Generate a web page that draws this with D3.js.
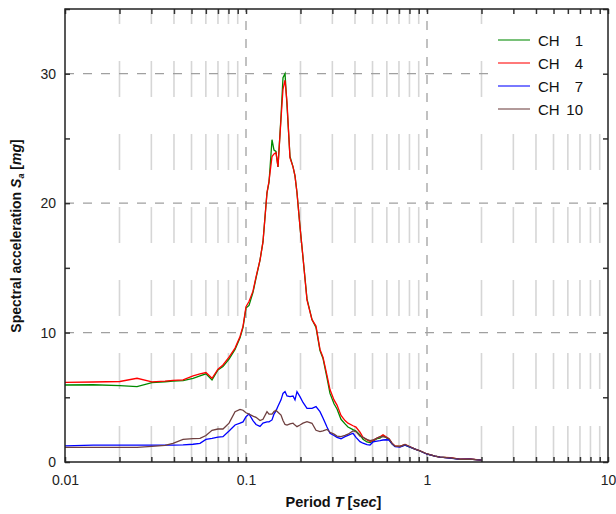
<!DOCTYPE html>
<html>
<head>
<meta charset="utf-8">
<script src="https://cdn.jsdelivr.net/npm/d3@7"></script>
<style>
  body { margin: 0; background: #fff; }
  svg { display: block; font-family: "Liberation Sans", Arial, sans-serif; }
</style>
</head>
<body>
<div id="chart"></div>
<script>
// Periods (sec) shared by all channels
const periods = [0.01, 0.0143, 0.0201, 0.025, 0.0302, 0.0357, 0.0395, 0.0449, 0.051, 0.0557,
  0.0601, 0.0649, 0.07, 0.0746, 0.0806, 0.087, 0.0927, 0.0963, 0.1, 0.1039,
  0.1093, 0.1136, 0.1195, 0.1241, 0.1306, 0.134, 0.1392, 0.1428, 0.1464, 0.1502,
  0.1561, 0.1601, 0.1643, 0.1685, 0.175, 0.1819, 0.1865, 0.1913, 0.1987, 0.2065,
  0.2173, 0.2315, 0.2436, 0.2563, 0.2663, 0.2802, 0.2911, 0.3063, 0.3183, 0.3349,
  0.3524, 0.366, 0.39, 0.4052, 0.4264, 0.443, 0.466, 0.4842, 0.503, 0.5293,
  0.55, 0.5714, 0.5936, 0.6166, 0.6406, 0.666, 0.709, 0.756, 0.806, 0.859,
  0.915, 1.0, 1.107, 1.18, 1.34, 1.521, 1.728, 2.0];

// Spectral acceleration (mg)
const ch1 = [5.95, 5.97, 5.9, 5.83, 6.13, 6.2, 6.25, 6.29, 6.47, 6.65,
  6.81, 6.34, 7.11, 7.37, 7.95, 8.7, 9.6, 10.4, 11.9, 12.1,
  13.1, 14.2, 15.6, 17.0, 20.8, 21.6, 24.9, 24.1, 24.0, 22.8,
  26.7, 29.7, 30.0, 27.5, 23.6, 22.8, 22.1, 20.8, 18.2, 15.8,
  12.6, 11.0, 10.4, 8.6, 8.0, 6.5, 5.3, 4.5, 4.1, 3.3,
  2.95, 2.7, 2.5, 2.4, 2.1, 1.75, 1.55, 1.5, 1.6, 1.8,
  1.85, 2.05, 1.9, 1.75, 1.4, 1.2, 1.2, 1.3, 1.15, 1.0,
  0.85, 0.62, 0.45, 0.38, 0.32, 0.22, 0.22, 0.15];

const ch4 = [6.15, 6.18, 6.22, 6.47, 6.19, 6.25, 6.3, 6.34, 6.65, 6.8,
  6.91, 6.47, 7.17, 7.5, 8.1, 8.8, 9.7, 10.5, 12.0, 12.4,
  13.2, 14.3, 15.6, 17.0, 20.8, 21.7, 23.6, 23.8, 23.9, 22.8,
  26.5, 28.8, 29.5, 27.8, 23.5, 22.8, 22.1, 20.8, 18.2, 15.8,
  12.5, 11.0, 10.5, 8.7, 8.1, 6.7, 5.6, 4.8, 4.4, 3.6,
  3.2, 3.0, 2.8, 2.7, 2.3, 1.9, 1.7, 1.6, 1.65, 1.85,
  1.95, 2.1, 1.95, 1.8, 1.45, 1.24, 1.2, 1.35, 1.18, 1.0,
  0.87, 0.62, 0.45, 0.38, 0.33, 0.22, 0.23, 0.15];

const ch7 = [1.24, 1.31, 1.3, 1.31, 1.31, 1.31, 1.31, 1.33, 1.37, 1.44,
  1.75, 1.83, 1.92, 1.96, 2.4, 2.86, 3.0, 3.1, 3.5, 3.71,
  3.2, 2.9, 2.75, 3.0, 3.1, 3.1, 3.25, 3.7, 3.95, 4.3,
  4.8, 5.3, 5.44, 5.1, 5.05, 5.1, 4.8, 5.44, 5.05, 4.6,
  4.15, 4.15, 4.28, 3.89, 3.4, 2.7, 2.22, 2.05, 1.9, 1.8,
  1.96, 2.05, 2.22, 1.9, 1.57, 1.45, 1.35, 1.31, 1.55, 1.62,
  1.65, 1.7, 1.72, 1.7, 1.4, 1.18, 1.15, 1.3, 1.15, 1.0,
  0.85, 0.6, 0.45, 0.38, 0.3, 0.2, 0.22, 0.15];

const ch10 = [1.13, 1.13, 1.13, 1.13, 1.2, 1.28, 1.44, 1.75, 1.8, 1.83,
  2.05, 2.45, 2.55, 2.55, 3.0, 3.89, 4.07, 4.0, 3.8, 3.7,
  3.55, 3.45, 3.2, 3.3, 3.89, 3.7, 3.7, 3.9, 4.0, 3.85,
  3.63, 3.2, 2.9, 2.85, 2.95, 3.0, 2.85, 2.73, 2.86, 3.0,
  3.12, 2.99, 2.45, 2.35, 2.4, 2.52, 2.3, 2.15, 2.0, 1.96,
  2.05, 2.15, 2.4, 2.35, 2.0, 1.9, 1.75, 1.65, 1.7, 1.85,
  1.95, 1.96, 1.9, 1.8, 1.45, 1.22, 1.2, 1.35, 1.18, 1.0,
  0.86, 0.62, 0.45, 0.38, 0.32, 0.21, 0.22, 0.15];

const seriesNames = ["CH", "CH", "CH", "CH"];
const seriesNums = ["1", "4", "7", "10"];
const seriesColors = ["#008a00", "#ff0000", "#0000ff", "#6e3f3f"];

const xTickLabels = ["0.01", "0.1", "1", "10"];
const xMajor = [0.01, 0.1, 1, 10];
const yTickLabels = ["0", "10", "20", "30"];
const yMajor = [0, 10, 20, 30];

const W = 616, H = 514;
const margin = { left: 65, top: 9, right: 8, bottom: 52 };

const svg = d3.select("#chart").append("svg")
    .attr("width", W)
    .attr("height", H)
    .style("background", "#fff");

const x = d3.scaleLog().domain([0.01, 10]).range([margin.left, W - margin.right]);
const y = d3.scaleLinear().domain([0, 35]).range([H - margin.bottom, margin.top]);

const x0 = x.range()[0], x1 = x.range()[1];
const yb = y.range()[0], yt = y.range()[1];

// minor log positions (2..9 of each decade)
const minorX = [];
[0.01, 0.1, 1].forEach(d => { for (let k = 2; k <= 9; k++) minorX.push(d * k); });
const allX = minorX.concat(xMajor);

// minor vertical grid: light, long dashes from the bottom
svg.append("g").selectAll("line")
    .data(minorX)
    .enter().append("line")
    .attr("x1", d => x(d)).attr("x2", d => x(d))
    .attr("y1", yb).attr("y2", yt)
    .attr("stroke", "#d6d6d6")
    .attr("stroke-width", 1.6)
    .attr("stroke-dasharray", "36,37");

// major dashed grid
svg.append("g").selectAll("line")
    .data([0.1, 1])
    .enter().append("line")
    .attr("x1", d => x(d)).attr("x2", d => x(d))
    .attr("y1", yb).attr("y2", yt)
    .attr("stroke", "#a0a0a0")
    .attr("stroke-width", 1.3)
    .attr("stroke-dasharray", "9,9");

svg.append("g").selectAll("line")
    .data([10, 20, 30])
    .enter().append("line")
    .attr("x1", x0).attr("x2", x1)
    .attr("y1", d => y(d)).attr("y2", d => y(d))
    .attr("stroke", "#a0a0a0")
    .attr("stroke-width", 1.3)
    .attr("stroke-dasharray", "9,9");

// curves
const line = d3.line()
    .x(d => x(d[0]))
    .y(d => y(d[1]));

[ch1, ch4, ch7, ch10].forEach((vals, i) => {
    svg.append("path")
        .datum(periods.map((p, j) => [p, vals[j]]))
        .attr("fill", "none")
        .attr("stroke", seriesColors[i])
        .attr("stroke-width", 1.3)
        .attr("d", line);
});

// legend box hides the grid behind it
svg.append("rect")
    .attr("x", 490).attr("y", yt)
    .attr("width", x1 - 490).attr("height", 120)
    .attr("fill", "#fff");

// tick marks on all four sides (inward)
const tickStyle = g => {
    g.select(".domain").remove();
    g.selectAll(".tick line").attr("stroke", "#333").attr("stroke-width", 1.5);
};
svg.append("g").attr("transform", `translate(0,${yb})`)
    .call(d3.axisBottom(x).tickValues(allX).tickSize(-5).tickFormat(""))
    .call(tickStyle);
svg.append("g").attr("transform", `translate(0,${yt})`)
    .call(d3.axisTop(x).tickValues(allX).tickSize(-5).tickFormat(""))
    .call(tickStyle);
const yTicks = d3.range(0, 36, 5);
svg.append("g").attr("transform", `translate(${x0},0)`)
    .call(d3.axisLeft(y).tickValues(yTicks).tickSize(-5).tickFormat(""))
    .call(tickStyle);
svg.append("g").attr("transform", `translate(${x1},0)`)
    .call(d3.axisRight(y).tickValues(yTicks).tickSize(-5).tickFormat(""))
    .call(tickStyle);

// tick labels
const labelStyle = g => {
    g.select(".domain").remove();
    g.selectAll(".tick line").remove();
    g.selectAll("text").attr("fill", "#222").style("font-size", "14px")
        .style("font-family", "'Liberation Sans', Arial, sans-serif");
};
svg.append("g").attr("transform", `translate(0,${yb})`)
    .call(d3.axisBottom(x).tickValues(xMajor).tickSize(0).tickPadding(13)
        .tickFormat((d, i) => xTickLabels[i]))
    .call(labelStyle);
svg.append("g").attr("transform", `translate(${x0},0)`)
    .call(d3.axisLeft(y).tickValues(yMajor).tickSize(0).tickPadding(9)
        .tickFormat((d, i) => yTickLabels[i]))
    .call(labelStyle);

// frame
svg.append("rect")
    .attr("x", x0).attr("y", yt)
    .attr("width", x1 - x0).attr("height", yb - yt)
    .attr("fill", "none")
    .attr("stroke", "#222")
    .attr("stroke-width", 1.5);

// axis titles
const xt = svg.append("text")
    .attr("x", (x0 + x1) / 2 - 3)
    .attr("y", 507)
    .attr("text-anchor", "middle")
    .style("font-size", "14.5px")
    .style("font-weight", "bold")
    .attr("fill", "#111");
xt.append("tspan").text("Period ");
xt.append("tspan").style("font-style", "italic").text("T");
xt.append("tspan").text(" [");
xt.append("tspan").style("font-style", "italic").text("sec");
xt.append("tspan").text("]");

const ytl = svg.append("text")
    .attr("transform", "translate(21,236) rotate(-90)")
    .attr("text-anchor", "middle")
    .style("font-size", "14px")
    .style("font-weight", "bold")
    .attr("fill", "#111");
ytl.append("tspan").text("Spectral acceleration ");
ytl.append("tspan").style("font-style", "italic").text("S");
ytl.append("tspan").attr("dy", 3).style("font-size", "9px").style("font-style", "italic").text("a");
ytl.append("tspan").attr("dy", -3).text(" [");
ytl.append("tspan").style("font-style", "italic").text("mg");
ytl.append("tspan").text("]");

// legend
const legend = svg.append("g");
const rowY = d3.scalePoint().domain(d3.range(4)).range([40, 109]);
seriesNums.forEach((n, i) => {
    legend.append("line")
        .attr("x1", 498).attr("x2", 530)
        .attr("y1", rowY(i)).attr("y2", rowY(i))
        .attr("stroke", seriesColors[i])
        .attr("stroke-opacity", 0.7)
        .attr("stroke-width", 1.5);
    legend.append("text")
        .attr("x", 538).attr("y", rowY(i) + 5.5)
        .style("font-size", "15px")
        .attr("fill", "#111")
        .text(seriesNames[i]);
    legend.append("text")
        .attr("x", 583).attr("y", rowY(i) + 5.5)
        .attr("text-anchor", "end")
        .style("font-size", "15px")
        .attr("fill", "#111")
        .text(n);
});
</script>
</body>
</html>
